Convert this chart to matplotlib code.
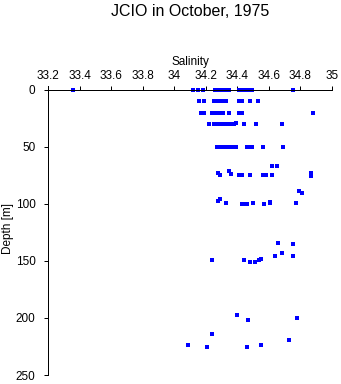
import matplotlib
matplotlib.use('Agg')
import matplotlib.pyplot as plt

plt.rcParams['font.family'] = ['Liberation Sans', 'DejaVu Sans']

# salinity / depth pairs
salinity = [33.36, 34.12, 34.15, 34.18, 34.26, 34.28, 34.30, 34.32, 34.34, 34.35,
            34.41, 34.43, 34.45, 34.47, 34.49, 34.75,
            34.16, 34.19, 34.25, 34.28, 34.30, 34.32, 34.33, 34.41, 34.43, 34.48, 34.53,
            34.17, 34.19, 34.24, 34.26, 34.28, 34.30, 34.31, 34.35, 34.41, 34.43, 34.88,
            34.22, 34.25, 34.27, 34.29, 34.31, 34.32, 34.34, 34.36, 34.38, 34.39, 34.44,
            34.52, 34.68,
            34.27, 34.29, 34.31, 34.32, 34.34, 34.36, 34.37, 34.39, 34.46, 34.47, 34.49,
            34.56, 34.69,
            34.62, 34.65,
            34.28, 34.29, 34.35, 34.36, 34.41, 34.43, 34.48, 34.56, 34.58, 34.62, 34.87, 34.87,
            34.79, 34.81,
            34.28, 34.29, 34.33, 34.43, 34.44, 34.46, 34.50, 34.57, 34.61, 34.61, 34.77,
            34.66, 34.75, 34.68, 34.64, 34.75,
            34.24, 34.44, 34.48, 34.51, 34.54, 34.55,
            34.40, 34.47, 34.78,
            34.24, 34.73, 34.09, 34.21, 34.46, 34.55]
depth = [0, 0, 0, 0, 0, 0, 0, 0, 0, 0,
         0, 0, 0, 0, 0, 0,
         10, 10, 10, 10, 10, 10, 10, 10, 10, 10, 10,
         20, 20, 20, 20, 20, 20, 20, 20, 20, 20, 20,
         30, 30, 30, 30, 30, 30, 30, 30, 30, 29, 30,
         30, 30,
         50, 50, 50, 50, 50, 50, 50, 50, 50, 50, 50,
         50, 50,
         67, 67,
         73, 75, 71, 74, 75, 75, 75, 75, 75, 75, 73, 75.5,
         89, 90,
         97.5, 95.5, 99.5, 100, 100, 100, 99.5, 100, 98.5, 99.5, 99.5,
         134.5, 135.5, 143, 146, 146,
         149.5, 149, 150.5, 150.5, 149.5, 148.5,
         197, 202, 200,
         214, 219, 224, 225.5, 225.5, 224]

xticks = [33.2, 33.4, 33.6, 33.8, 34, 34.2, 34.4, 34.6, 34.8, 35]
xlabels = ['33.2', '33.4', '33.6', '33.8', '34', '34.2', '34.4', '34.6', '34.8', '35']
yticks = [0, 50, 100, 150, 200, 250]

fig = plt.figure(figsize=(3.41, 3.84), dpi=100)
ax = fig.add_axes([48/341, 1-375/384, 284/341, 289/384])

ax.plot(salinity, depth, 's', color='#0000ff', markersize=2.4, markeredgewidth=0)

ax.set_xlim(33.2, 35)
ax.set_ylim(250, -3.5)
ax.xaxis.set_ticks_position('top')
ax.xaxis.set_label_position('top')
ax.set_xticks(xticks)
ax.set_xticklabels(xlabels)
ax.set_yticks(yticks)
ax.tick_params(axis='both', direction='out', length=3, width=0.72, labelsize=8.5, colors='black')
ax.tick_params(axis='x', pad=3)
ax.tick_params(axis='y', pad=6)

for s in ['right', 'bottom']:
    ax.spines[s].set_visible(False)
ax.spines['top'].set_position(('data', 0))
ax.spines['top'].set_linewidth(0.72)
ax.spines['left'].set_linewidth(0.72)

ax.set_xlabel('Salinity', fontsize=8.5, labelpad=3)
fig.text(8/341, 1-228/384, 'Depth [m]', rotation=90, ha='center', va='center', fontsize=8.5)
fig.text(190/341, 1-12/384, 'JCIO in October, 1975', ha='center', va='center', fontsize=11.5)

fig.savefig('out.png', dpi=100)
